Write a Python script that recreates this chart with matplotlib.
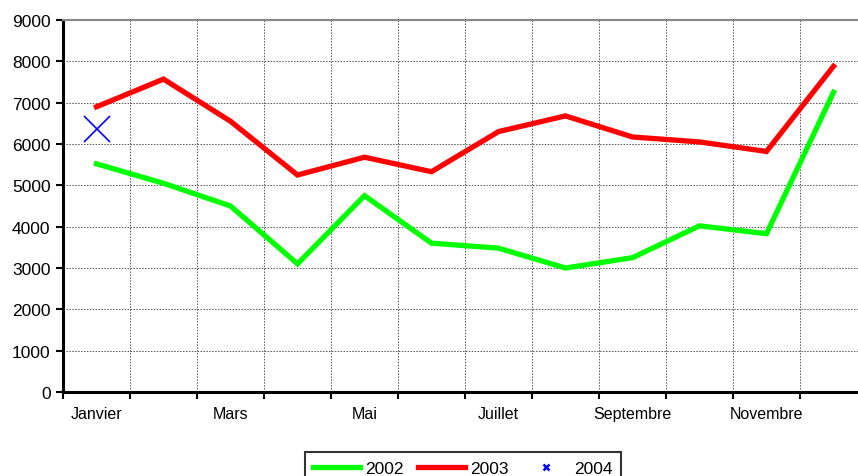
import matplotlib
matplotlib.use("Agg")
import matplotlib.pyplot as plt
import numpy as np

months = ["Janvier", "Février", "Mars", "Avril", "Mai", "Juin", "Juillet",
          "Août", "Septembre", "Octobre", "Novembre", "Décembre"]
v2002 = [5520, 5050, 4500, 3100, 4750, 3600, 3480, 3000, 3250, 4020, 3830, 7250]
v2003 = [6900, 7570, 6550, 5250, 5680, 5330, 6300, 6680, 6170, 6050, 5820, 7880]
v2004 = [6360]
yticks = list(range(0, 9001, 1000))

plt.rcParams['font.family'] = ['Liberation Sans', 'DejaVu Sans']

W, H = 858, 477
fig = plt.figure(figsize=(W / 100, H / 100), dpi=100)
ax = fig.add_axes([63 / W, (H - 393) / H, 804 / W, 372 / H])

x = np.arange(len(months))
l1, = ax.plot(x, v2002, color="#00ff00", lw=3.8, solid_joinstyle="miter", label="2002", zorder=3)
l2, = ax.plot(x, v2003, color="#ff0000", lw=3.8, solid_joinstyle="miter", label="2003", zorder=3)
l3, = ax.plot(x[:len(v2004)], v2004, linestyle="none", marker="x", markersize=19,
              markeredgewidth=1.2, color="#0000ff", label="2004", zorder=4)

ax.set_xlim(-0.5, len(months) - 0.5)
ax.set_ylim(0, 9000)
ax.set_yticks(yticks)
ax.set_yticklabels([str(t) for t in yticks])

ax.set_xticks(np.arange(-0.5, len(months), 1.0))
ax.set_xticklabels([])
ax.set_xticks(x, minor=True)
ax.set_xticklabels([m if i % 2 == 0 else "" for i, m in enumerate(months)], minor=True)
ax.tick_params(axis="x", which="minor", length=0, pad=10, labelsize=11.5)
ax.tick_params(axis="x", which="major", length=5, width=1.5, direction="out", color="black")
ax.tick_params(axis="y", length=5, width=1.5, direction="out", labelsize=12.5, pad=4)

ax.grid(True, which="major", color="#555555", linestyle=(0, (1.5, 1.5)), linewidth=0.7)
ax.set_axisbelow(True)

ax.spines["left"].set_linewidth(2.2)
ax.spines["bottom"].set_linewidth(2.2)
ax.spines["top"].set_color("#888888")
ax.spines["top"].set_linewidth(1.5)
ax.spines["right"].set_visible(False)

l3.set_clip_on(False)

leg = fig.legend(handles=[l1, l2, l3], loc="upper center",
                 bbox_to_anchor=(463 / W, 1 - 453 / H), ncol=3, frameon=True,
                 fancybox=False, edgecolor="black", fontsize=12.5, handlelength=2.7,
                 columnspacing=0.8, borderpad=0.5, handletextpad=0.3,
                 borderaxespad=0)
leg.get_frame().set_linewidth(1.5)
leg.legend_handles[2].set_markersize(5)
leg.legend_handles[2].set_markeredgewidth(1.8)

fig.savefig("out.png", dpi=100)
